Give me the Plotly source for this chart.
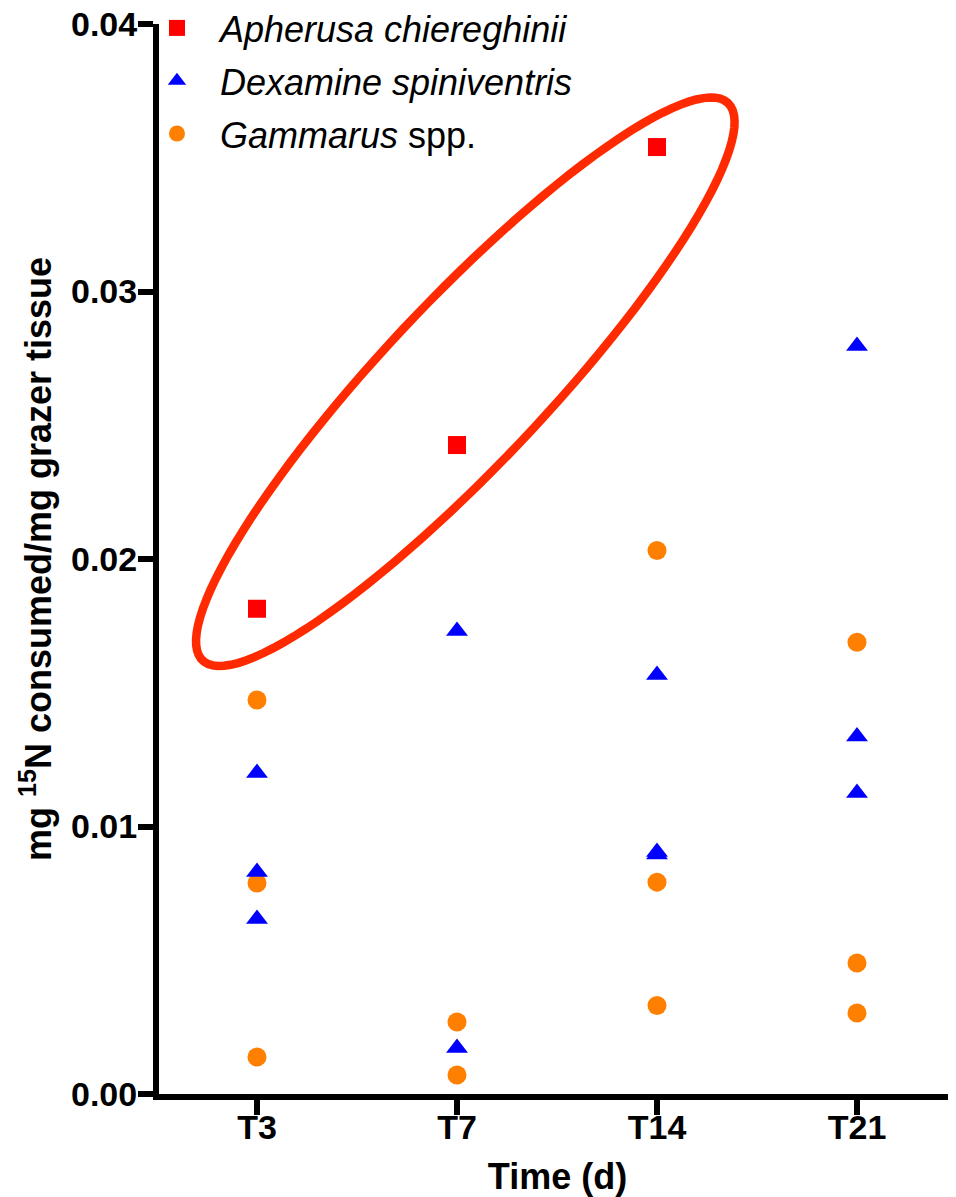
import numpy as np
import plotly.graph_objects as go

# time points and their tick labels
time_labels = ["T3", "T7", "T14", "T21"]

# mg 15N consumed / mg grazer tissue
apherusa_time = ["T3", "T7", "T14"]
apherusa_vals = [0.01814, 0.02426, 0.0354]

dexamine_time = ["T3", "T3", "T3", "T7", "T7", "T14", "T14", "T14", "T21", "T21", "T21"]
dexamine_vals = [0.0120, 0.0083, 0.00654, 0.01731, 0.00172,
                 0.01566, 0.00905, 0.00895, 0.02796, 0.01336, 0.01125]

gammarus_time = ["T3", "T3", "T3", "T7", "T7", "T14", "T14", "T14", "T21", "T21", "T21"]
gammarus_vals = [0.01473, 0.00789, 0.00138, 0.00269, 0.00071,
                 0.02032, 0.00792, 0.00331, 0.01689, 0.0049, 0.00303]

y_ticks = [0.0, 0.01, 0.02, 0.03, 0.04]
y_ticktext = ["0.00", "0.01", "0.02", "0.03", "0.04"]

# page has an 8px body margin, so the figure is 8px smaller than the window
W, H = 948, 1189
M = dict(l=151, r=0, t=16, b=103, autoexpand=False)
X_RANGE = [-0.49, 3.495]
Y_RANGE = [0.0, 0.04]

FONT = "Liberation Sans, Arial, sans-serif"


def to_idx(times):
    return [time_labels.index(t) for t in times]


fig = go.Figure()

# draw order: Gammarus under Dexamine, as in the original
fig.add_trace(go.Scatter(
    x=to_idx(gammarus_time), y=gammarus_vals, mode="markers",
    name="<i>Gammarus</i> spp.", legendrank=3, legendgroup="g",
    marker=dict(symbol="circle", size=19, color="#FF8000"),
    cliponaxis=False,
))
fig.add_trace(go.Scatter(
    x=to_idx(dexamine_time), y=dexamine_vals, mode="markers",
    name="<i>Dexamine spiniventris</i>", legendrank=2, legendgroup="d",
    marker=dict(symbol="triangle-up", size=19, color="#0000FF"),
    cliponaxis=False,
))
fig.add_trace(go.Scatter(
    x=to_idx(apherusa_time), y=apherusa_vals, mode="markers",
    name="<i>Apherusa chiereghinii</i>", legendrank=1, legendgroup="a",
    marker=dict(symbol="square", size=18, color="#FF0000"),
    cliponaxis=False,
))

# hand-drawn highlight ellipse round the Apherusa points (pixel geometry -> data units)
px_per_x = (W - M["l"] - M["r"]) / (X_RANGE[1] - X_RANGE[0])
px_per_y = (H - M["t"] - M["b"]) / (Y_RANGE[1] - Y_RANGE[0])
ell_cx, ell_cy = 1.0415, 0.026626
ell_a, ell_b, ell_rot = 383, 81.5, np.deg2rad(46.7)
phi = np.linspace(0, 2 * np.pi, 120)
ex = ell_a * np.cos(phi) * np.cos(ell_rot) - ell_b * np.sin(phi) * np.sin(ell_rot)
ey = ell_a * np.cos(phi) * np.sin(ell_rot) + ell_b * np.sin(phi) * np.cos(ell_rot)
ex = ell_cx + ex / px_per_x
ey = ell_cy + ey / px_per_y
path = "M " + " L ".join(f"{a:.5f},{b:.6f}" for a, b in zip(ex, ey)) + " Z"
fig.add_shape(type="path", path=path, xref="x", yref="y",
              line=dict(color="#FF2A00", width=8.5))

fig.update_layout(
    width=W, height=H,
    margin=M,
    plot_bgcolor="white", paper_bgcolor="white",
    font=dict(family=FONT, color="black"),
    showlegend=True,
    legend=dict(
        x=-0.0314, y=1.0243, xanchor="left", yanchor="top",
        font=dict(family=FONT, size=36, color="black"),
        traceorder="grouped", tracegroupgap=3,
        itemwidth=76, bgcolor="rgba(0,0,0,0)",
    ),
    xaxis=dict(
        range=X_RANGE,
        tickmode="array", tickvals=list(range(len(time_labels))), ticktext=time_labels,
        showgrid=False, zeroline=False,
        showline=True, linewidth=6, linecolor="black",
        ticks="outside", ticklen=15, tickwidth=6, tickcolor="black",
        ticklabelstandoff=-17, ticklabeloverflow="allow",
        tickfont=dict(family=FONT, size=34, weight="bold"),
        title=dict(text="Time (d)", font=dict(family=FONT, size=36, weight="bold"),
                   standoff=22),
    ),
    yaxis=dict(
        range=Y_RANGE,
        tickmode="array", tickvals=y_ticks, ticktext=y_ticktext,
        showgrid=False, zeroline=False,
        showline=True, linewidth=6, linecolor="black",
        ticks="outside", ticklen=15, tickwidth=6, tickcolor="black",
        ticklabelstandoff=-6, ticklabeloverflow="allow",
        tickfont=dict(family=FONT, size=34, weight="bold"),
        title=dict(text="mg <sup>15</sup>N consumed/mg grazer tissue",
                   font=dict(family=FONT, size=36, weight="bold"), standoff=10),
    ),
)

fig.write_html("out.html")
